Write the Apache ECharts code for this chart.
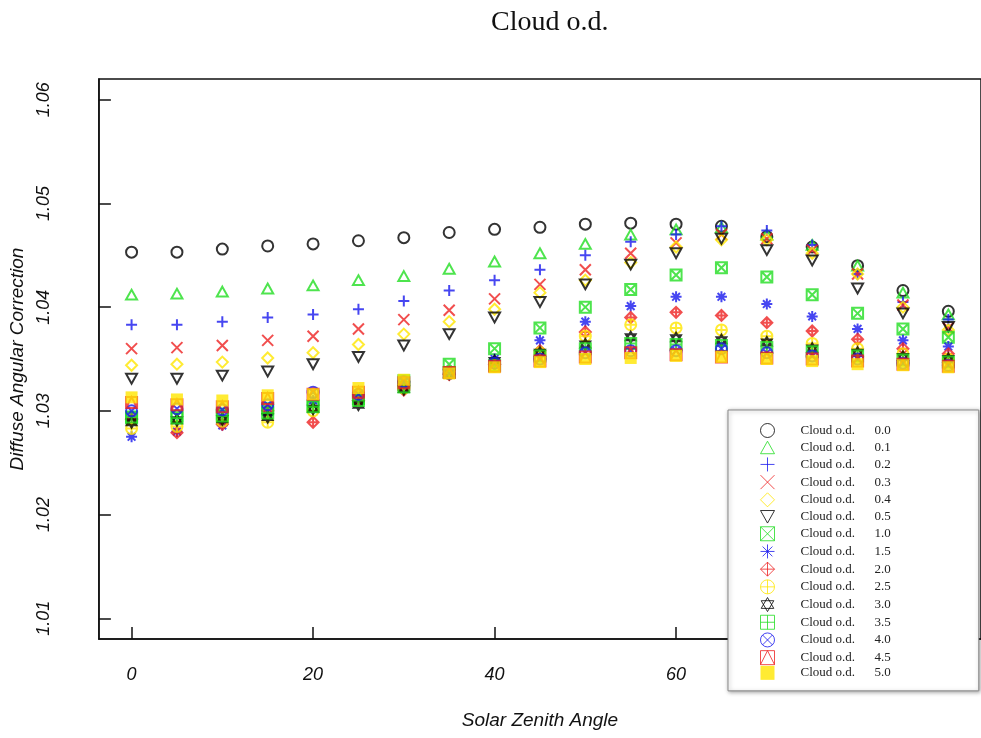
<!DOCTYPE html>
<html>
<head>
<meta charset="utf-8">
<script src="https://cdn.jsdelivr.net/npm/echarts@6/dist/echarts.min.js"></script>
<style>
  html, body { margin: 0; padding: 0; background: #fff; }
  #chart { width: 981px; height: 738px; }
</style>
</head>
<body>
<div id="chart"></div>
<script>
// Solar zenith angle (degrees) at which each correction was computed
const zenith = [0, 5, 10, 15, 20, 25, 30, 35, 40, 45, 50, 55, 60, 65, 70, 75, 80, 85, 90];

// Cloud optical depths (legend labels)
const depthLabels = ['0.0', '0.1', '0.2', '0.3', '0.4', '0.5', '1.0', '1.5', '2.0', '2.5', '3.0', '3.5', '4.0', '4.5', '5.0'];

// Diffuse angular correction for each cloud optical depth
const od00 = [1.0453, 1.0453, 1.0456, 1.0459, 1.0461, 1.0464, 1.0467, 1.0472, 1.0475, 1.0477, 1.0480, 1.0481, 1.0480, 1.0478, 1.0468, 1.0458, 1.0440, 1.0416, 1.0396];
const od01 = [1.0412, 1.0413, 1.0415, 1.0418, 1.0421, 1.0426, 1.0430, 1.0437, 1.0444, 1.0452, 1.0461, 1.0470, 1.0475, 1.0477, 1.0470, 1.0460, 1.0440, 1.0414, 1.0393];
const od02 = [1.0383, 1.0383, 1.0386, 1.0390, 1.0393, 1.0398, 1.0406, 1.0416, 1.0426, 1.0436, 1.0450, 1.0463, 1.0470, 1.0478, 1.0474, 1.0460, 1.0432, 1.0405, 1.0388];
const od03 = [1.0360, 1.0361, 1.0363, 1.0368, 1.0372, 1.0379, 1.0388, 1.0397, 1.0408, 1.0422, 1.0436, 1.0452, 1.0462, 1.0470, 1.0466, 1.0455, 1.0432, 1.0402, 1.0380];
const od04 = [1.0344, 1.0345, 1.0347, 1.0351, 1.0356, 1.0364, 1.0374, 1.0386, 1.0398, 1.0414, 1.0426, 1.0443, 1.0458, 1.0465, 1.0465, 1.0452, 1.0432, 1.0400, 1.0378];
const od05 = [1.0331, 1.0331, 1.0334, 1.0338, 1.0345, 1.0352, 1.0363, 1.0374, 1.0390, 1.0405, 1.0422, 1.0441, 1.0452, 1.0466, 1.0455, 1.0445, 1.0418, 1.0394, 1.0381];
const od10 = [1.0293, 1.0295, 1.0297, 1.0302, 1.0305, 1.0312, 1.0329, 1.0345, 1.0360, 1.0380, 1.0400, 1.0417, 1.0431, 1.0438, 1.0429, 1.0412, 1.0394, 1.0379, 1.0371];
const od15 = [1.0275, 1.0280, 1.0286, 1.0296, 1.0310, 1.0315, 1.0325, 1.0335, 1.0350, 1.0368, 1.0386, 1.0401, 1.0410, 1.0410, 1.0403, 1.0391, 1.0379, 1.0368, 1.0362];
const od20 = [1.0292, 1.0279, 1.0287, 1.0300, 1.0289, 1.0310, 1.0320, 1.0335, 1.0345, 1.0358, 1.0376, 1.0390, 1.0395, 1.0392, 1.0385, 1.0377, 1.0369, 1.0360, 1.0355];
const od25 = [1.0283, 1.0285, 1.0290, 1.0289, 1.0300, 1.0316, 1.0322, 1.0336, 1.0343, 1.0356, 1.0372, 1.0383, 1.0380, 1.0378, 1.0372, 1.0365, 1.0360, 1.0355, 1.0350];
const od30 = [1.0289, 1.0291, 1.0292, 1.0294, 1.0302, 1.0306, 1.0321, 1.0336, 1.0348, 1.0356, 1.0364, 1.0371, 1.0370, 1.0368, 1.0366, 1.0360, 1.0356, 1.0352, 1.0350];
const od35 = [1.0294, 1.0293, 1.0295, 1.0298, 1.0304, 1.0310, 1.0323, 1.0337, 1.0344, 1.0353, 1.0360, 1.0365, 1.0364, 1.0363, 1.0361, 1.0357, 1.0353, 1.0349, 1.0347];
const od40 = [1.0300, 1.0302, 1.0301, 1.0306, 1.0318, 1.0316, 1.0328, 1.0336, 1.0346, 1.0350, 1.0356, 1.0358, 1.0358, 1.0360, 1.0356, 1.0353, 1.0350, 1.0346, 1.0344];
const od45 = [1.0308, 1.0306, 1.0304, 1.0312, 1.0316, 1.0318, 1.0327, 1.0337, 1.0343, 1.0348, 1.0352, 1.0356, 1.0354, 1.0352, 1.0351, 1.0350, 1.0348, 1.0345, 1.0343];
const od50 = [1.0313, 1.0311, 1.0310, 1.0315, 1.0316, 1.0322, 1.0330, 1.0336, 1.0342, 1.0347, 1.0350, 1.0351, 1.0353, 1.0352, 1.0350, 1.0348, 1.0345, 1.0344, 1.0342];

const seriesValues = [od00, od01, od02, od03, od04, od05, od10, od15, od20, od25, od30, od35, od40, od45, od50];

// Tick values
const xTicks = [0, 20, 40, 60, 80];
const yTicks = [1.01, 1.02, 1.03, 1.04, 1.05, 1.06];

// Plot colours cycle through five pens
const pens = ['#000000', '#22dd22', '#1818ee', '#ee2222', '#ffe600'];

// Plotting characters (outline paths, stroked)
const C = 'M10,0 A10,10 0 1,1 10,20 A10,10 0 1,1 10,0 Z';
const glyphs = [
  'path://' + C,                                                          // circle
  'path://M10,1 L19.5,18 L0.5,18 Z',                                       // triangle up
  'path://M10,0 L10,20 M0,10 L20,10',                                      // plus
  'path://M0,0 L20,20 M20,0 L0,20',                                        // cross
  'path://M10,0 L20,10 L10,20 L0,10 Z',                                    // diamond
  'path://M0.5,2 L19.5,2 L10,19 Z',                                        // triangle down
  'path://M0,0 L20,0 L20,20 L0,20 Z M0,0 L20,20 M20,0 L0,20',              // square with cross
  'path://M10,0 L10,20 M0,10 L20,10 M3,3 L17,17 M17,3 L3,17',              // asterisk
  'path://M10,0 L20,10 L10,20 L0,10 Z M10,0 L10,20 M0,10 L20,10',          // diamond plus
  'path://' + C + ' M10,0 L10,20 M0,10 L20,10',                            // circle plus
  'path://M10,0 L19,15.5 L1,15.5 Z M10,20 L1,4.5 L19,4.5 Z',               // two triangles
  'path://M0,0 L20,0 L20,20 L0,20 Z M10,0 L10,20 M0,10 L20,10',            // square plus
  'path://' + C + ' M2.93,2.93 L17.07,17.07 M17.07,2.93 L2.93,17.07',      // circle cross
  'path://M0,0 L20,0 L20,20 L0,20 Z M0,20 L10,0 L20,20',                   // square triangle
  'rect'                                                                   // filled square
];

const series = seriesValues.map((vals, i) => {
  const col = pens[i % pens.length];
  const filled = i === seriesValues.length - 1;
  return {
    name: 'Cloud o.d. ' + depthLabels[i],
    type: 'scatter',
    data: zenith.map((z, k) => [z, vals[k]]),
    symbol: glyphs[i],
    symbolKeepAspect: true,
    symbolSize: filled ? 12 : 11,
    itemStyle: filled
      ? { color: col, borderWidth: 0 }
      : { color: 'none', borderColor: col, borderWidth: 2 },
    emphasis: { disabled: true },
    animation: false
  };
});

const chart = echarts.init(document.getElementById('chart'), null, { renderer: 'canvas' });

chart.setOption({
  backgroundColor: '#ffffff',
  animation: false,
  title: {
    text: 'Cloud o.d.',
    left: 486,
    top: 4,
    textStyle: { fontFamily: 'Liberation Serif', fontSize: 28, fontWeight: 'normal', color: '#111' }
  },
  grid: {
    left: 96, top: 79, right: -10, bottom: 99,
    show: true, borderColor: '#111', borderWidth: 1.5, backgroundColor: 'transparent'
  },
  xAxis: {
    type: 'value',
    min: -3.6, max: 93.6,
    name: 'Solar Zenith Angle',
    nameLocation: 'middle',
    nameGap: 72,
    nameTextStyle: { fontFamily: 'Liberation Sans', fontStyle: 'italic', fontSize: 19, color: '#111' },
    axisLine: { show: true, onZero: false, lineStyle: { color: '#111', width: 1.5 } },
    axisTick: { show: true, inside: true, length: 12, customValues: xTicks, lineStyle: { color: '#111', width: 1.5 } },
    axisLabel: {
      customValues: xTicks, margin: 27,
      fontFamily: 'Liberation Sans', fontStyle: 'italic', fontSize: 18, color: '#111'
    },
    splitLine: { show: false }
  },
  yAxis: {
    type: 'value',
    min: 1.008, max: 1.062,
    name: 'Diffuse Angular Correction',
    nameLocation: 'middle',
    nameGap: 70,
    nameRotate: 90,
    nameTextStyle: { fontFamily: 'Liberation Sans', fontStyle: 'italic', fontSize: 19, color: '#111' },
    axisLine: { show: true, onZero: false, lineStyle: { color: '#111', width: 1.5 } },
    axisTick: { show: true, inside: true, length: 12, customValues: yTicks, lineStyle: { color: '#111', width: 1.5 } },
    axisLabel: {
      customValues: yTicks, rotate: 90, margin: 46,
      formatter: v => v.toFixed(2),
      fontFamily: 'Liberation Sans', fontStyle: 'italic', fontSize: 18, color: '#111'
    },
    splitLine: { show: false }
  },
  legend: {
    orient: 'vertical',
    left: 728,
    top: 410,
    padding: [11, 88, 11, 30],
    itemWidth: 14,
    itemHeight: 14,
    itemGap: -1.3,
    backgroundColor: '#ffffff',
    borderColor: '#8a8a8a',
    borderWidth: 1,
    shadowBlur: 4,
    shadowColor: 'rgba(0,0,0,0.35)',
    shadowOffsetX: 1,
    shadowOffsetY: 1,
    selectedMode: false,
    itemStyle: { borderWidth: 1 },
    formatter: name => {
      const v = name.slice(name.lastIndexOf(' ') + 1);
      return '{a|Cloud o.d.}{b|' + v + '}';
    },
    textStyle: {
      fontFamily: 'Liberation Serif', fontSize: 13, color: '#222',
      rich: {
        a: { fontFamily: 'Liberation Serif', fontSize: 13, color: '#222', width: 74, padding: [0, 0, 0, 21] },
        b: { fontFamily: 'Liberation Serif', fontSize: 13, color: '#222' }
      }
    },
    data: series.map(s => s.name)
  },
  series: series
});
</script>
</body>
</html>
